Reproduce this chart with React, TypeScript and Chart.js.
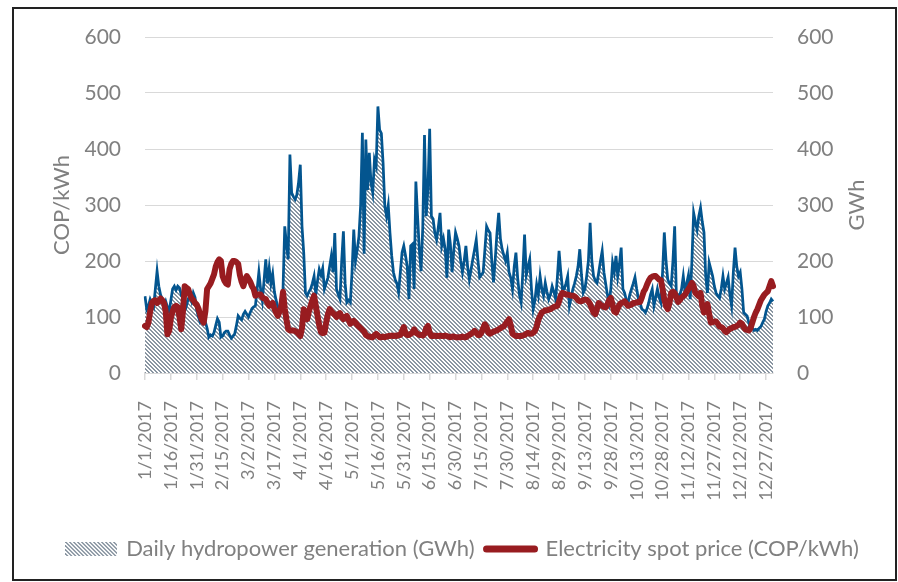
import React, { useEffect, useRef } from "react";
import { Chart, registerables } from "chart.js";

Chart.register(...registerables);
Chart.defaults.font.family = "Lato";

const YEAR = 2017;
const MONTH_DAYS = [31, 28, 31, 30, 31, 30, 31, 31, 30, 31, 30, 31];

const TICK_LABELS = [
  "1/1/2017", "1/16/2017", "1/31/2017", "2/15/2017", "3/2/2017", "3/17/2017",
  "4/1/2017", "4/16/2017", "5/1/2017", "5/16/2017", "5/31/2017", "6/15/2017",
  "6/30/2017", "7/15/2017", "7/30/2017", "8/14/2017", "8/29/2017", "9/13/2017",
  "9/28/2017", "10/13/2017", "10/28/2017", "11/12/2017", "11/27/2017",
  "12/12/2017", "12/27/2017",
];

// Daily hydropower generation (GWh), by month
const hydroJan = [137,114,120,132,125,118,150,182,155,140,132,120,128,118,110,130,150,155,148,155,152,140,143,130,120,132,138,128,143,135,112];
const hydroFeb = [100,91,95,88,91,80,64,68,66,72,85,97,91,64,66,72,75,75,68,62,66,70,85,102,98,95,105,110];
const hydroMar = [105,100,108,115,118,120,150,180,150,130,165,203,160,188,160,177,145,130,118,110,130,150,262,230,203,390,322,315,310,318,340];
const hydroApr = [372,262,215,143,138,145,150,160,173,140,165,185,175,187,150,160,170,190,209,180,250,150,140,132,200,253,160,126,130,126];
const hydroMay = [180,256,200,220,244,300,429,213,417,327,393,340,322,381,370,476,434,428,375,298,280,300,250,209,180,167,160,144,180,215,227];
const hydroJun = [210,190,132,227,230,150,342,280,220,182,260,425,280,330,436,280,275,250,238,260,286,227,240,221,170,256,230,180,220,251];
const hydroJul = [240,227,200,180,200,227,190,167,185,203,220,238,200,171,175,180,220,262,255,250,200,162,203,250,286,240,221,210,200,215,180];
const hydroAug = [170,150,190,215,170,140,126,180,247,175,190,203,150,114,130,158,140,173,150,138,161,145,132,140,155,145,132,170,218,180,150];
const hydroSep = [150,160,173,120,135,150,160,173,190,221,175,143,150,173,200,268,200,173,165,161,180,200,218,180,160,140,126,150,197,180];
const hydroOct = [209,173,195,224,150,143,130,126,140,150,160,171,150,132,125,114,112,108,115,126,140,150,120,135,150,135,126,180,251,200,167];
const hydroNov = [160,155,200,262,138,140,140,150,173,145,160,175,132,200,286,270,256,280,295,270,251,173,143,197,185,173,155,143,138,134];
const hydroDec = [150,173,150,160,171,140,120,180,224,190,173,180,150,108,105,102,90,78,80,76,78,76,80,83,90,96,110,120,125,132,128];

// Electricity spot price (COP/kWh), by month
const priceJan = [84,82,90,110,125,129,130,125,128,133,130,125,110,69,75,98,110,118,120,118,100,78,110,155,152,150,140,133,130,125,122];
const priceFeb = [115,104,95,90,110,150,155,160,168,176,190,198,203,200,173,165,160,158,185,195,200,200,198,195,175,163,155,165];
const priceMar = [173,168,163,155,150,138,140,140,140,135,133,132,125,120,122,125,115,108,102,110,120,145,115,95,78,76,76,76,75,73,70];
const priceApr = [66,80,114,100,96,110,120,130,138,120,102,85,73,71,72,90,105,114,110,107,104,100,105,107,100,96,100,102,95,88];
const priceMay = [90,93,90,86,83,80,77,74,68,66,65,64,64,67,70,67,64,64,65,64,65,66,66,67,66,67,66,68,68,75,82];
const priceJun = [70,68,68,70,72,78,72,70,68,68,67,70,80,84,72,66,66,67,66,66,67,66,66,67,66,65,64,65,65,64];
const priceJul = [64,64,64,65,64,64,66,68,70,72,75,72,68,68,72,80,87,82,72,70,72,74,75,76,78,80,82,83,88,92,96];
const priceAug = [85,70,68,66,66,66,66,67,68,70,72,70,70,72,75,83,95,102,108,110,112,112,113,114,116,118,119,120,128,138,143];
const priceSep = [142,140,140,139,138,138,137,134,130,128,128,130,131,131,128,123,115,108,105,115,125,122,120,118,117,122,130,134,122,110];
const priceOct = [108,115,122,125,126,128,124,120,121,122,125,125,126,127,127,135,145,150,158,165,170,172,173,173,170,167,166,150,131,120,114];
const priceNov = [125,143,145,143,135,127,130,135,137,140,145,150,155,161,155,143,140,137,143,120,108,115,123,105,90,91,92,92,88,83];
const priceDec = [82,80,75,73,76,79,80,82,82,84,86,90,88,82,78,77,76,80,90,100,108,114,122,130,135,140,143,146,155,164,155];

const HYDRO = [
  ...hydroJan, ...hydroFeb, ...hydroMar, ...hydroApr, ...hydroMay, ...hydroJun,
  ...hydroJul, ...hydroAug, ...hydroSep, ...hydroOct, ...hydroNov, ...hydroDec,
];
const PRICE = [
  ...priceJan, ...priceFeb, ...priceMar, ...priceApr, ...priceMay, ...priceJun,
  ...priceJul, ...priceAug, ...priceSep, ...priceOct, ...priceNov, ...priceDec,
];

const DATES: string[] = [];
MONTH_DAYS.forEach((n, m) => {
  for (let d = 1; d <= n; d++) DATES.push(`${m + 1}/${d}/${YEAR}`);
});

const LEFT_TITLE = "COP/kWh";
const RIGHT_TITLE = "GWh";

const GRAY = "#808080";
const GRID = "#d9d9d9";
const BLUE = "#03558f";
const RED = "#981c20";
const HATCH = "#8a96a2";

function makeHatch(w: number, h: number): HTMLCanvasElement {
  const c = document.createElement("canvas");
  c.width = w;
  c.height = h;
  const ctx = c.getContext("2d")!;
  ctx.fillStyle = "#ffffff";
  ctx.fillRect(0, 0, w, h);
  ctx.fillStyle = HATCH;
  for (let y = 0; y < h; y++) {
    for (let x = 0; x < w; x++) {
      if ((((x - y) % 4) + 4) % 4 < 2) ctx.fillRect(x, y, 1, 1);
    }
  }
  return c;
}

// Secondary axis title, rotated to read upward like the primary one
const rightTitlePlugin = {
  id: "rightTitle",
  afterDraw(chart: any) {
    const { ctx, chartArea, scales } = chart;
    const s = scales.y2;
    ctx.save();
    ctx.translate(s.right - 41, (chartArea.top + chartArea.bottom) / 2);
    ctx.rotate(-Math.PI / 2);
    ctx.font = "22px Lato";
    ctx.fillStyle = GRAY;
    ctx.textAlign = "center";
    ctx.textBaseline = "middle";
    ctx.fillText(RIGHT_TITLE, 0, 0);
    ctx.restore();
  },
};

export default function App() {
  const ref = useRef<HTMLCanvasElement>(null);

  useEffect(() => {
    const canvas = ref.current!;
    const ctx = canvas.getContext("2d")!;
    const pattern = ctx.createPattern(makeHatch(8, 8), "repeat")!;
    const swatch = makeHatch(52, 14);

    const chart = new Chart(canvas, {
      type: "line",
      data: {
        labels: DATES,
        datasets: [
          {
            label: "Daily hydropower generation (GWh)",
            data: HYDRO,
            yAxisID: "y2",
            fill: "origin",
            backgroundColor: pattern as any,
            borderColor: BLUE,
            borderWidth: 2.75,
            pointRadius: 0,
            tension: 0,
            order: 2,
          },
          {
            label: "Electricity spot price (COP/kWh)",
            data: PRICE,
            yAxisID: "y",
            fill: false,
            borderColor: RED,
            backgroundColor: RED,
            borderWidth: 6,
            borderCapStyle: "round",
            borderJoinStyle: "round",
            pointRadius: 0,
            tension: 0,
            order: 1,
          },
        ],
      },
      plugins: [rightTitlePlugin],
      options: {
        responsive: false,
        animation: false,
        devicePixelRatio: 1,
        events: [],
        layout: { padding: { left: 28, right: 0, top: 37, bottom: 12 } },
        plugins: {
          tooltip: { enabled: false },
          legend: {
            position: "bottom",
            labels: {
              usePointStyle: true,
              pointStyleWidth: 48,
              boxHeight: 14,
              padding: 12,
              color: GRAY,
              font: { size: 22 },
              generateLabels: () => [
                {
                  text: "Daily hydropower generation (GWh)",
                  fillStyle: pattern as any,
                  strokeStyle: "rgba(0,0,0,0)",
                  lineWidth: 0,
                  pointStyle: swatch as any,
                  datasetIndex: 0,
                  hidden: false,
                  fontColor: GRAY,
                },
                {
                  text: "Electricity spot price (COP/kWh)",
                  fillStyle: RED,
                  strokeStyle: RED,
                  lineWidth: 7,
                  lineCap: "round",
                  pointStyle: "line",
                  datasetIndex: 1,
                  hidden: false,
                  fontColor: GRAY,
                },
              ],
            },
          },
        },
        scales: {
          x: {
            type: "category",
            offset: false,
            grid: {
              display: true,
              drawOnChartArea: false,
              drawTicks: true,
              tickLength: 7,
              color: GRID,
              lineWidth: 1.5,
            },
            border: { display: true, color: GRID, width: 2 },
            ticks: {
              autoSkip: false,
              maxRotation: 90,
              minRotation: 90,
              padding: 21,
              color: GRAY,
              font: { size: 18 },
            },
            afterBuildTicks: (s: any) => {
              s.ticks = s.ticks.filter((t: any) => TICK_LABELS.includes(DATES[t.value]));
            },
            afterFit: (s: any) => {
              s.height = 153;
            },
          },
          y: {
            position: "left",
            min: 0,
            max: 600,
            ticks: { stepSize: 100, padding: 24, color: GRAY, font: { size: 21 } },
            grid: { color: GRID, lineWidth: 1, drawTicks: false },
            border: { display: false },
            title: {
              display: true,
              text: LEFT_TITLE,
              color: GRAY,
              font: { size: 22 },
              padding: { top: 21, bottom: 0 },
            },
            afterFit: (s: any) => {
              s.width = 117;
            },
          },
          y2: {
            position: "right",
            min: 0,
            max: 600,
            ticks: { stepSize: 100, padding: 24, color: GRAY, font: { size: 21 } },
            grid: { display: false, drawTicks: false },
            border: { display: false },
            title: { display: false },
            afterFit: (s: any) => {
              s.width = 125;
            },
          },
        },
      } as any,
    });
    return () => chart.destroy();
  }, []);

  return (
    <div style={{ position: "fixed", left: 0, top: 0, width: 898, height: 582, background: "#fff" }}>
      <canvas ref={ref} width={898} height={582} style={{ display: "block" }} />
      <div
        style={{
          position: "absolute",
          left: 12,
          top: 7,
          right: 1,
          bottom: 1,
          border: "2px solid #222",
          boxSizing: "border-box",
          pointerEvents: "none",
        }}
      />
    </div>
  );
}
